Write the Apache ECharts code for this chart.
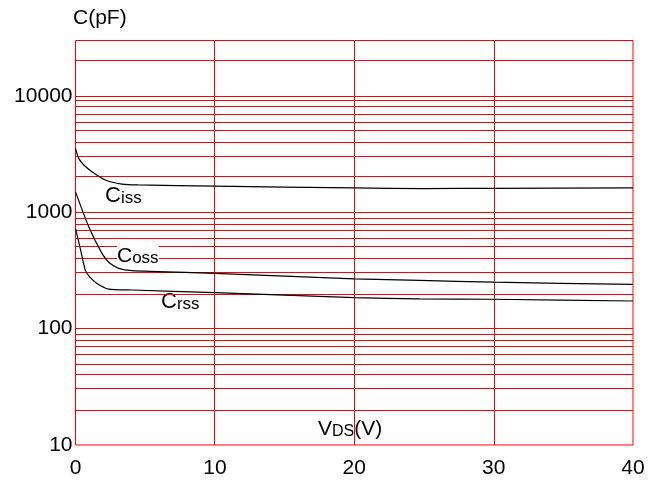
<!DOCTYPE html>
<html>
<head>
<meta charset="utf-8">
<script src="https://cdn.jsdelivr.net/npm/echarts@6/dist/echarts.min.js"></script>
<style>html,body{margin:0;padding:0;background:#fff}#c{width:654px;height:480px}</style>
</head>
<body>
<div id="c"></div>
<script>
var xTicks = [0, 10, 20, 30, 40];
var xInnerLines = [10, 20, 30];
var yMajor = [10, 100, 1000, 10000];
var yGridLines = [20, 30, 40, 50, 60, 70, 80, 90, 100,
                  200, 300, 400, 500, 600, 700, 800, 900, 1000,
                  2000, 3000, 4000, 5000, 6000, 7000, 8000, 9000, 10000,
                  20000];
var ciss = [[0, 3550], [0.23, 2910], [0.6, 2550], [1.18, 2230], [2.14, 1895], [3.33, 1750], [4.5, 1720], [10, 1680], [20, 1620], [25, 1600], [30, 1610], [40, 1620]];
var coss = [[0, 1500], [0.95, 752], [1.9, 444], [2.4, 370], [3.1, 330], [4.05, 315], [10, 299], [20, 268], [24.7, 260], [30, 251], [40, 240]];
var crss = [[0, 728], [0.34, 490], [0.7, 319], [1.0, 280], [1.54, 245], [2.38, 219], [4.05, 215], [10, 204], [20, 185], [24.7, 180], [30, 179], [40, 173]];

var chart = echarts.init(document.getElementById('c'));
var red = '#ff0000';
var font = 'Liberation Sans, Arial, sans-serif';
function crisp(p) { return 2 * Math.round((p - 0.5) / 2) + 0.5; }
function curve(name, data) {
  return {
    name: name, type: 'line', data: data, showSymbol: false, symbol: 'none',
    smooth: 0.2, lineStyle: { color: '#000', width: 1.2 }, z: 5, silent: true
  };
}
var series = [
  {
    type: 'custom', silent: true, z: 1,
    data: yGridLines.map(function (v) { return [0, v]; }),
    renderItem: function (params, api) {
      var a = api.coord([xTicks[0], api.value(1)]);
      var b = api.coord([xTicks[xTicks.length - 1], api.value(1)]);
      var y = crisp(a[1]);
      return { type: 'line', shape: { x1: a[0], y1: y, x2: b[0], y2: y }, style: { stroke: red, lineWidth: 1 } };
    }
  },
  {
    type: 'custom', silent: true, z: 1,
    data: xInnerLines.map(function (v) { return [v, 10]; }),
    renderItem: function (params, api) {
      var a = api.coord([api.value(0), 10]);
      var b = api.coord([api.value(0), 30000]);
      var x = crisp(a[0]);
      return { type: 'line', shape: { x1: x, y1: a[1], x2: x, y2: b[1] }, style: { stroke: red, lineWidth: 1 } };
    }
  },
  curve('Ciss', ciss), curve('Coss', coss), curve('Crss', crss)
];
chart.setOption({
  animation: false,
  grid: { left: 75.5, right: 21, top: 40.5, bottom: 35, show: true, borderColor: red, borderWidth: 1 },
  xAxis: {
    type: 'value', min: 0, max: 40, interval: 10,
    axisLine: { show: false }, axisTick: { show: false },
    axisLabel: { fontFamily: font, fontSize: 21, color: '#000', margin: 13 },
    splitLine: { show: false }
  },
  yAxis: {
    type: 'log', logBase: 10, min: 10, max: 30000,
    axisLine: { show: false }, axisTick: { show: false },
    axisLabel: {
      fontFamily: font, fontSize: 21, color: '#000', margin: 3, showMaxLabel: false,
      formatter: function (v) { return yMajor.indexOf(v) >= 0 ? String(v) : ''; }
    },
    splitLine: { show: false }
  },
  series: series,
  graphic: [
    { type: 'text', left: 73, top: 8, style: { text: 'C(pF)', font: '21px ' + font, fill: '#000' } },
    { type: 'text', x: 105, y: 207, style: {
        text: '{a|C}{b|iss}', textVerticalAlign: 'bottom',
        rich: { a: { fontSize: 22, fontFamily: font, fill: '#000', lineHeight: 22, verticalAlign: 'bottom' },
                b: { fontSize: 17, fontFamily: font, fill: '#000', lineHeight: 18, verticalAlign: 'bottom' } } } },
    { type: 'text', x: 117, y: 267, z: 10, style: {
        text: '{a|C}{b|oss}', textVerticalAlign: 'bottom', backgroundColor: '#fff',
        rich: { a: { fontSize: 21, fontFamily: font, fill: '#000', lineHeight: 21, verticalAlign: 'bottom', backgroundColor: '#fff' },
                b: { fontSize: 17, fontFamily: font, fill: '#000', lineHeight: 18, verticalAlign: 'bottom', backgroundColor: '#fff' } } } },
    { type: 'text', x: 161, y: 313, style: {
        text: '{a|C}{b|rss}', textVerticalAlign: 'bottom',
        rich: { a: { fontSize: 22, fontFamily: font, fill: '#000', lineHeight: 22, verticalAlign: 'bottom' },
                b: { fontSize: 17, fontFamily: font, fill: '#000', lineHeight: 18, verticalAlign: 'bottom' } } } },
    { type: 'text', x: 318, y: 440, style: {
        text: '{a|V}{b|DS}{a|(V)}', textVerticalAlign: 'bottom',
        rich: { a: { fontSize: 21, fontFamily: font, fill: '#000', lineHeight: 22, verticalAlign: 'bottom' },
                b: { fontSize: 16, fontFamily: font, fill: '#000', lineHeight: 17, verticalAlign: 'bottom' } } } }
  ]
});
</script>
</body>
</html>
